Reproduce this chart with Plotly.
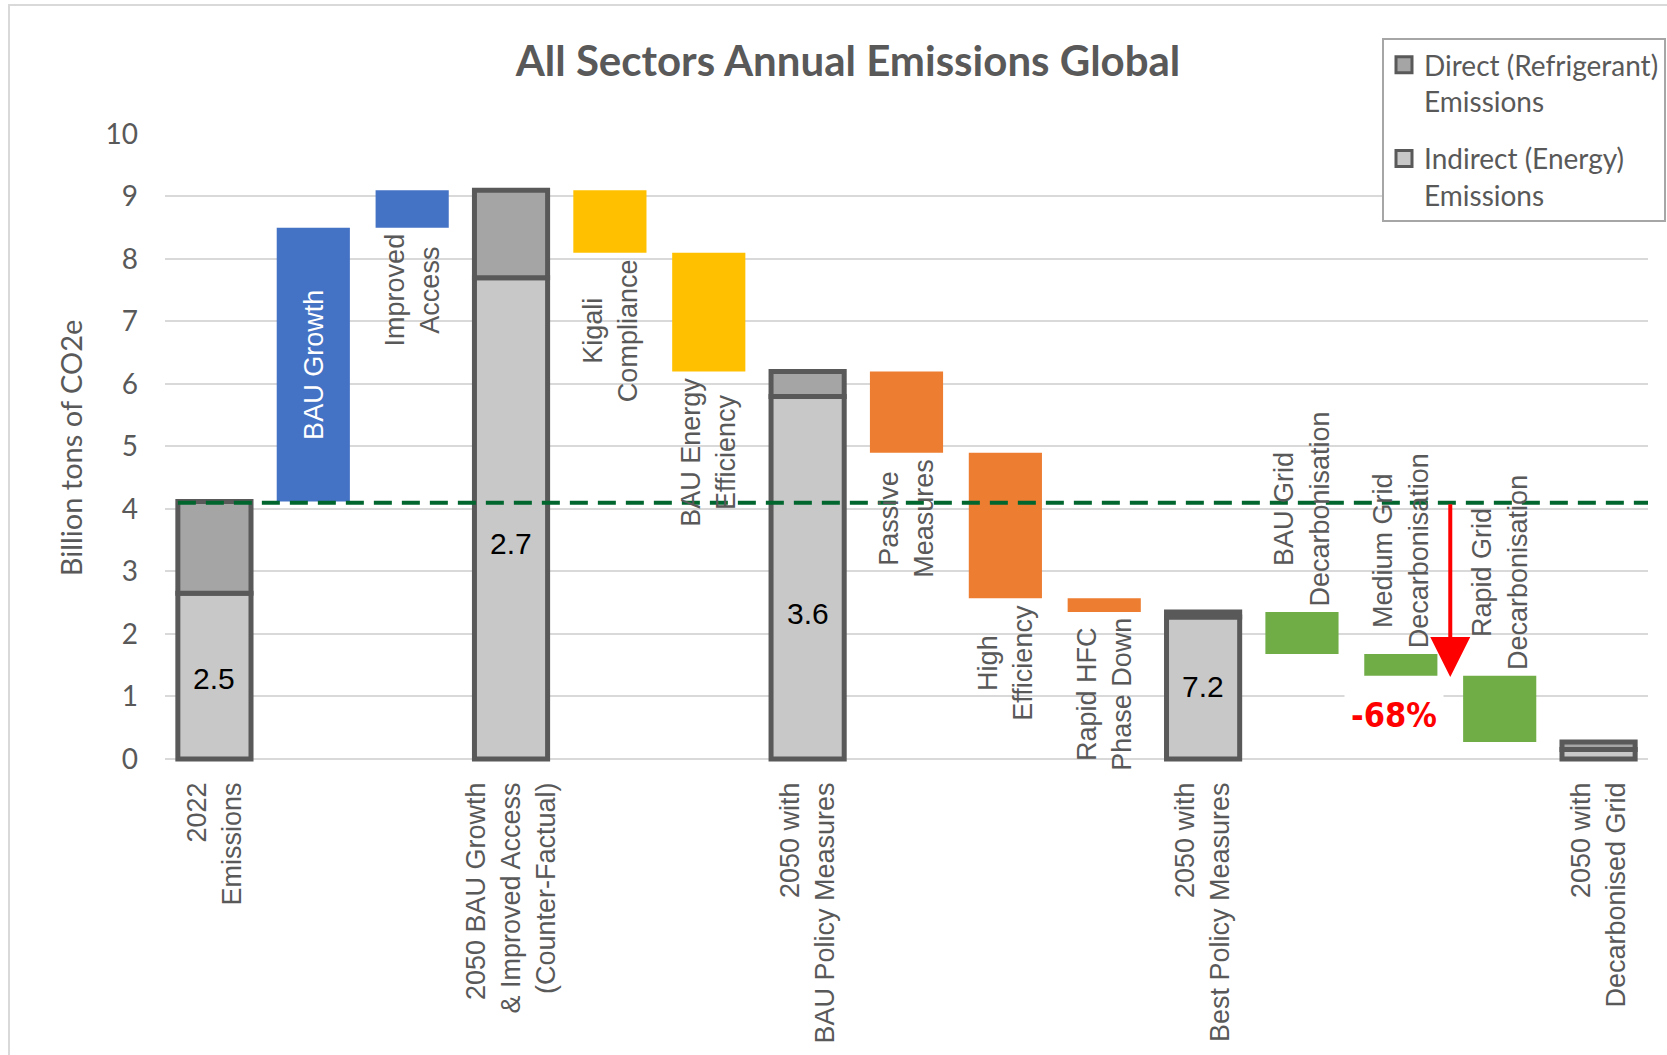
import plotly.graph_objects as go

# ---------------- data ----------------
categories = [
    "2022 Emissions", "BAU Growth", "Improved Access",
    "2050 BAU Growth & Improved Access (Counter-Factual)",
    "Kigali Compliance", "BAU Energy Efficiency",
    "2050 with BAU Policy Measures", "Passive Measures", "High Efficiency",
    "Rapid HFC Phase Down", "2050 with Best Policy Measures",
    "BAU Grid Decarbonisation", "Medium Grid Decarbonisation",
    "Rapid Grid Decarbonisation", "2050 with Decarbonised Grid",
]
tick_labels = [
    "2022<br>Emissions", "", "",
    "2050 BAU Growth<br>& Improved Access<br>(Counter-Factual)", "", "",
    "2050 with<br>BAU Policy Measures", "", "", "",
    "2050 with<br>Best Policy Measures", "", "", "",
    "2050 with<br>Decarbonised Grid",
]

# stacked total bars
total_idx = [0, 3, 6, 10, 14]
indirect = [2.65, 7.7, 5.8, 2.27, 0.15]
direct = [1.47, 1.4, 0.4, 0.08, 0.12]
total_labels = ["2.5", "2.7", "3.6", "7.2", ""]
total_label_y = [1.29, 3.45, 2.33, 1.16, None]

# floating step bars
float_idx = [1, 2, 4, 5, 7, 8, 9, 11, 12, 13]
float_low = [4.12, 8.5, 8.1, 6.2, 4.9, 2.57, 2.35, 1.68, 1.33, 0.27]
float_high = [8.5, 9.1, 9.1, 8.1, 6.2, 4.9, 2.57, 2.35, 1.68, 1.33]
float_colors = ["#4472C4", "#4472C4", "#FFC000", "#FFC000", "#ED7D31",
                "#ED7D31", "#ED7D31", "#70AD47", "#70AD47", "#70AD47"]
float_text = ["BAU Growth", "Improved<br>Access", "Kigali<br>Compliance",
              "BAU Energy<br>Efficiency", "Passive<br>Measures",
              "High<br>Efficiency", "Rapid HFC<br>Phase Down",
              "BAU Grid<br>Decarbonisation", "Medium Grid<br>Decarbonisation",
              "Rapid Grid<br>Decarbonisation"]
float_text_pos = ["inside", "below", "below", "below", "below", "below",
                  "below", "above", "above", "above"]

baseline_2022 = 4.1
reduction_text = "-68%"
reduction_x = 11.93
reduction_y = 0.71
arrow_x = 12.5
arrow_end = 1.31

# ---------------- style ----------------
TXT = "#595959"
OUTLINE = "#595959"
W, H = 1667, 1055
ML, MR, MT, MB = 165, 19, 134, 293
PH = H - MT - MB
PW = W - ML - MR
BW = 0.74
LBL_FONT = "Liberation Sans, Arial, sans-serif"
CAL_FONT = "Lato, Carlito, Calibri, sans-serif"

fig = go.Figure()

fig.add_trace(go.Bar(
    x=total_idx, y=indirect, width=BW, showlegend=False,
    marker=dict(color="#C8C8C8", line=dict(color=OUTLINE, width=5)),
    hoverinfo="y",
))
fig.add_trace(go.Bar(
    x=total_idx, y=direct, base=indirect, width=BW, showlegend=False,
    marker=dict(color="#A5A5A5", line=dict(color=OUTLINE, width=5)),
    hoverinfo="y",
))
fig.add_trace(go.Bar(
    x=float_idx, y=[h - l for l, h in zip(float_low, float_high)],
    base=float_low, width=BW, showlegend=False,
    marker=dict(color=float_colors, line=dict(width=0)),
))
# legend entries (larger square swatches)
fig.add_trace(go.Scatter(
    x=[None], y=[None], mode="markers", name="Direct (Refrigerant)<br>Emissions",
    legendgroup="a", legendrank=1,
    marker=dict(symbol="square", size=16, color="#A5A5A5",
                line=dict(color=OUTLINE, width=3)),
))
fig.add_trace(go.Scatter(
    x=[None], y=[None], mode="markers", name="Indirect (Energy)<br>Emissions",
    legendgroup="b", legendrank=2,
    marker=dict(symbol="square", size=16, color="#C8C8C8",
                line=dict(color=OUTLINE, width=3)),
))

annotations = []
for i, t, yv in zip(total_idx, total_labels, total_label_y):
    if t:
        annotations.append(dict(x=i, y=yv, xref="x", yref="y", text=t,
                                showarrow=False,
                                font=dict(family=LBL_FONT, size=30, color="black")))

for i, lo, hi, t, pos in zip(float_idx, float_low, float_high, float_text, float_text_pos):
    if pos == "inside":
        annotations.append(dict(x=i, y=(lo + hi) / 2, xref="x", yref="y", text=t,
                                showarrow=False, textangle=-90,
                                font=dict(family=LBL_FONT, size=27, color="white")))
    elif pos == "below":
        annotations.append(dict(x=i, y=lo, xref="x", yref="y", text=t,
                                showarrow=False, textangle=-90, yanchor="top",
                                yshift=-4, align="center",
                                font=dict(family=LBL_FONT, size=27, color=TXT)))
    else:
        annotations.append(dict(x=i, y=hi, xref="x", yref="y", text=t,
                                showarrow=False, textangle=-90, yanchor="bottom",
                                yshift=4, align="center",
                                font=dict(family=LBL_FONT, size=27, color=TXT)))

annotations.append(dict(x=reduction_x, y=reduction_y, xref="x", yref="y",
                        text="<b>" + reduction_text + "</b>", showarrow=False,
                        bgcolor="white", borderpad=6,
                        font=dict(family="Liberation Sans Narrow, DejaVu Sans Condensed, Liberation Sans",
                                  size=34, color="#FF0000")))
annotations.append(dict(x=arrow_x, y=arrow_end, ax=arrow_x, ay=baseline_2022,
                        xref="x", yref="y", axref="x", ayref="y", text="",
                        showarrow=True, arrowhead=2, arrowsize=2,
                        arrowwidth=4, arrowcolor="#FF0000", standoff=0))

shapes = [
    dict(type="line", xref="x", yref="y", x0=-BW / 2, x1=14.5,
         y0=baseline_2022, y1=baseline_2022, layer="above",
         line=dict(color="#00662E", width=4, dash="18px,10px")),
    dict(type="rect", xref="paper", yref="paper",
         x0=(9 - ML) / PW, x1=1.2,
         y0=-0.8, y1=(H - MB - 5) / PH,
         line=dict(color="#D9D9D9", width=2), layer="below"),
]

fig.update_layout(
    width=W, height=H,
    margin=dict(l=ML, r=MR, t=MT, b=MB, autoexpand=False),
    paper_bgcolor="white", plot_bgcolor="white",
    barmode="overlay",
    title=dict(text="<b>All Sectors Annual Emissions Global</b>",
               x=848 / W, xanchor="center", y=1 - 61 / H, yanchor="middle",
               font=dict(family=CAL_FONT, size=42, color=TXT)),
    legend=dict(x=(1382 - ML) / PW, xanchor="left",
                y=(H - MB - 38) / PH, yanchor="top", valign="top",
                bgcolor="white", bordercolor="#A6A6A6", borderwidth=2,
                font=dict(family=CAL_FONT, size=28, color=TXT),
                tracegroupgap=18, traceorder="grouped"),
    xaxis=dict(range=[-0.5, 14.5], tickmode="array",
               tickvals=list(range(len(categories))), ticktext=tick_labels,
               tickangle=-90, showgrid=False, zeroline=False, showline=False,
               ticklabelstandoff=14,
               tickfont=dict(family=LBL_FONT, size=27, color=TXT)),
    yaxis=dict(range=[-0.05, 10], dtick=1, showgrid=True,
               gridcolor="#D9D9D9", gridwidth=2, zeroline=False,
               showline=False, ticklabelstandoff=26,
               tickfont=dict(family=CAL_FONT, size=28, color=TXT),
               title=dict(text="Billion tons of CO2e", standoff=14,
                          font=dict(family=CAL_FONT, size=29, color=TXT))),
    annotations=annotations,
    shapes=shapes,
)

fig.write_html("out.html", config={"displayModeBar": False},
               post_script="document.body.style.margin='0px';")
